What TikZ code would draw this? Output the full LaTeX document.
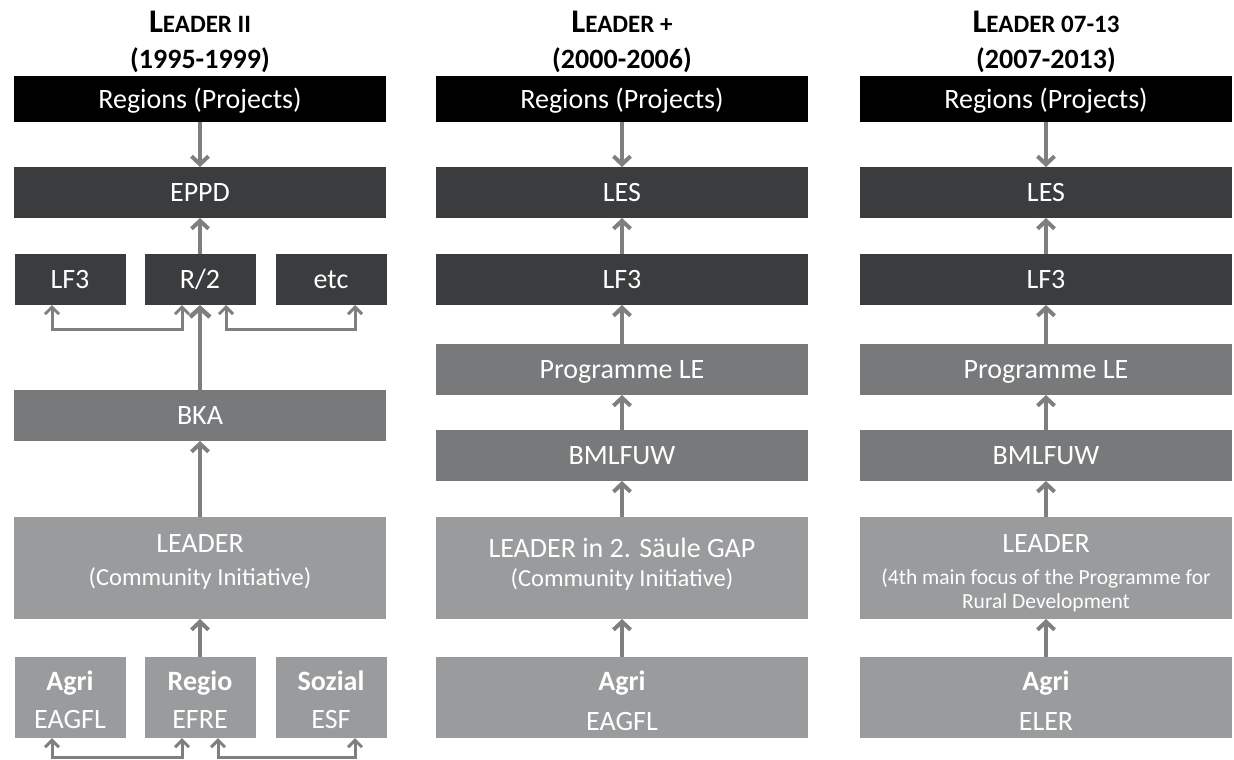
\documentclass[tikz,border=0pt]{standalone}
\usepackage{fontspec}
\setmainfont{Carlito}
\usetikzlibrary{arrows.meta}
\definecolor{cdark}{HTML}{3A3C3E}
\definecolor{cmid}{HTML}{77797A}
\definecolor{clight}{HTML}{999B9C}
\definecolor{carr}{HTML}{7F7F7F}
\newcommand{\bfont}{\fontsize{28}{34}\selectfont}
\newcommand{\sfontB}{\fontsize{24.5}{30}\selectfont}
\newcommand{\sfontC}{\fontsize{21.5}{25}\selectfont}
\newcommand{\ttlL}[1]{{\fontsize{33}{33}\selectfont L}{\fontsize{25}{25}\selectfont #1}}
\begin{document}
\begin{tikzpicture}[x=1pt,y=-1pt,
  box/.style={inner sep=0pt, outer sep=0pt, minimum width=372pt, text=white, font=\bfont, text height=18pt, text depth=0pt},
  blkbox/.style={box, fill=black, minimum height=46pt},
  drkbox/.style={box, fill=cdark, minimum height=51pt},
  midbox/.style={box, fill=cmid, minimum height=51pt},
  lgtbox/.style={box, fill=clight, minimum height=102pt},
  botbox/.style={box, fill=clight, minimum height=81pt},
  narrow/.style={minimum width=111pt},
  txt/.style={inner sep=0pt, outer sep=0pt, text=white, font=\bfont, anchor=base},
  ttl/.style={inner sep=0pt, outer sep=0pt, text=black, font=\bfseries\bfont, anchor=base},
  arr/.style={draw=carr, line width=4pt, -{Straight Barb[length=8pt,width=17pt,line width=4pt]}},
  arrbig/.style={draw=carr, line width=4.5pt, -{Straight Barb[length=9pt,width=20pt,line width=4.5pt]}},
  side/.style={draw=carr, line width=3pt, {Straight Barb[length=7pt,width=14pt,line width=3pt]}-{Straight Barb[length=7pt,width=14pt,line width=3pt]}},
]
\useasboundingbox (0,0) rectangle (1234,760);

% ---------- titles ----------
\node[ttl] (t1a) at (200,33) {\ttlL{EADER II}};
\node[ttl] (t1b) at (200,69) {(1995-1999)};
\node[ttl] (t2a) at (622,33) {\ttlL{EADER +}};
\node[ttl] (t2b) at (622,69) {(2000-2006)};
\node[ttl] (t3a) at (1046,33) {\ttlL{EADER 07-13}};
\node[ttl] (t3b) at (1046,69) {(2007-2013)};

% ---------- column 1 ----------
\node[blkbox] (r1) at (200,99) {Regions (Projects)};
\node[drkbox] (e1) at (200,192.5) {EPPD};
\node[drkbox, narrow] (lf1) at (70,279.5) {LF3};
\node[drkbox, narrow] (rr1) at (200,279.5) {R/2};
\node[drkbox, narrow] (etc1) at (331,279.5) {etc};
\node[midbox] (bka) at (200,415.5) {BKA};
\node[lgtbox] (ld1) at (200,568) {};
\node[txt] (ld1a) at (200,552) {LEADER};
\node[txt, font=\sfontB] (ld1b) at (200,585) {(Community Initiative)};
\node[botbox, narrow] (ag1) at (70,697.5) {};
\node[botbox, narrow] (rg1) at (200,697.5) {};
\node[botbox, narrow] (so1) at (331,697.5) {};
\node[txt, font=\bfseries\bfont] (ag1a) at (70,690) {Agri};
\node[txt] (ag1b) at (70,728) {EAGFL};
\node[txt, font=\bfseries\bfont] (rg1a) at (200,690) {Regio};
\node[txt] (rg1b) at (200,728) {EFRE};
\node[txt, font=\bfseries\bfont] (so1a) at (331,690) {Sozial};
\node[txt] (so1b) at (331,728) {ESF};

\draw[arr] (r1) -- (e1);
\draw[arr] (rr1) -- (e1);
\draw[arrbig] (bka) -- (rr1);
\draw[arr] (ld1) -- (bka);
\draw[arr] (rg1) -- (ld1);
\draw[side] ([xshift=-18pt]lf1.south) -- ++(0,24) -| ([xshift=-18pt]rr1.south);
\draw[side] ([xshift=26pt]rr1.south) -- ++(0,24) -| ([xshift=24pt]etc1.south);
\draw[side] ([xshift=-18pt]ag1.south) -- ++(0,19) -| ([xshift=-18pt]rg1.south);
\draw[side] ([xshift=18pt]rg1.south) -- ++(0,19) -| ([xshift=24pt]so1.south);

% ---------- column 2 ----------
\node[blkbox] (r2) at (622,99) {Regions (Projects)};
\node[drkbox] (les2) at (622,192.5) {LES};
\node[drkbox] (lf2) at (622,279.5) {LF3};
\node[midbox] (pr2) at (622,369.5) {Programme LE};
\node[midbox] (bm2) at (622,455.5) {BMLFUW};
\node[lgtbox] (ld2) at (622,568) {};
\node[txt] (ld2a) at (622,557) {LEADER in 2. Säule GAP};
\node[txt, font=\sfontB] (ld2b) at (622,586) {(Community Initiative)};
\node[botbox] (ag2) at (622,697.5) {};
\node[txt, font=\bfseries\bfont] (ag2a) at (622,690) {Agri};
\node[txt] (ag2b) at (622,730) {EAGFL};

\draw[arr] (r2) -- (les2);
\draw[arr] (lf2) -- (les2);
\draw[arr] (pr2) -- (lf2);
\draw[arr] (bm2) -- (pr2);
\draw[arr] (ld2) -- (bm2);
\draw[arr] (ag2) -- (ld2);

% ---------- column 3 ----------
\node[blkbox] (r3) at (1046,99) {Regions (Projects)};
\node[drkbox] (les3) at (1046,192.5) {LES};
\node[drkbox] (lf3) at (1046,279.5) {LF3};
\node[midbox] (pr3) at (1046,369.5) {Programme LE};
\node[midbox] (bm3) at (1046,455.5) {BMLFUW};
\node[lgtbox] (ld3) at (1046,568) {};
\node[txt] (ld3a) at (1046,552) {LEADER};
\node[txt, font=\sfontC] (ld3b) at (1046,584) {(4th main focus of the Programme for};
\node[txt, font=\sfontC] (ld3c) at (1046,608) {Rural Development};
\node[botbox] (ag3) at (1046,697.5) {};
\node[txt, font=\bfseries\bfont] (ag3a) at (1046,690) {Agri};
\node[txt] (ag3b) at (1046,730) {ELER};

\draw[arr] (r3) -- (les3);
\draw[arr] (lf3) -- (les3);
\draw[arr] (pr3) -- (lf3);
\draw[arr] (bm3) -- (pr3);
\draw[arr] (ld3) -- (bm3);
\draw[arr] (ag3) -- (ld3);
\end{tikzpicture}
\end{document}
